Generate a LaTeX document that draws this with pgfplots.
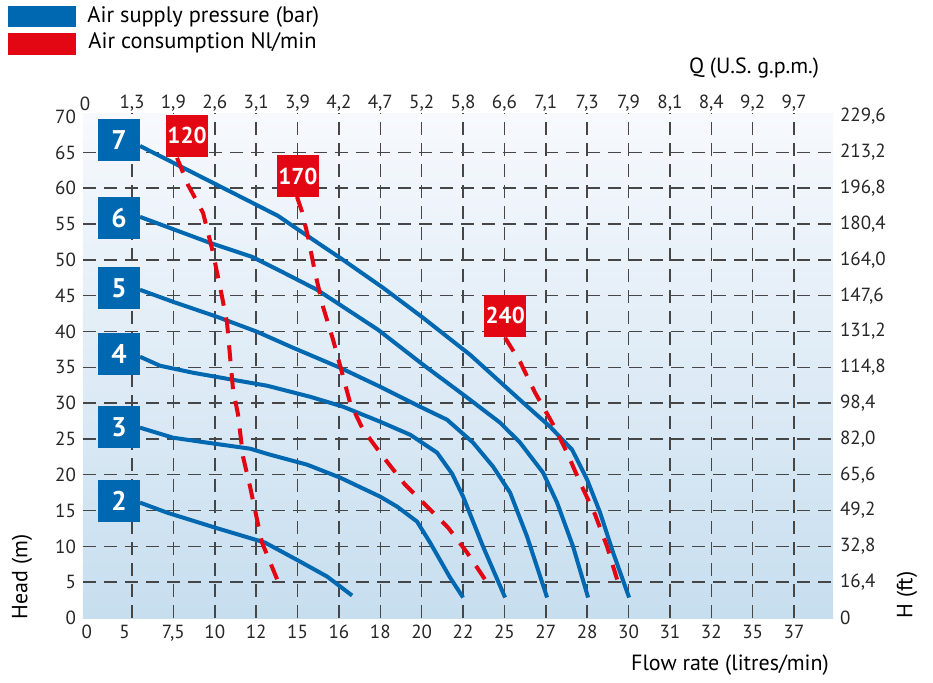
\documentclass[border=0pt]{standalone}
\usepackage{fontspec}
\setmainfont{PT Sans}
\usepackage{pgfplots}
\pgfplotsset{compat=1.18}
\definecolor{pblue}{RGB}{0,104,177}
\definecolor{pred}{RGB}{227,6,19}
\definecolor{gridc}{RGB}{70,70,70}
\definecolor{bgtop}{RGB}{247,249,253}
\definecolor{bgbot}{RGB}{199,222,239}
\tikzset{
  boxb/.style={fill=pblue, text=white, minimum size=21pt, inner sep=0pt, font=\bfseries\fontsize{13.5}{13.5}\selectfont},
  boxr/.style={fill=pred, text=white, minimum size=21pt, inner sep=0pt, font=\bfseries\fontsize{11.5}{11.5}\selectfont},
}
\begin{document}
\begin{tikzpicture}
\useasboundingbox (-41.5pt,-32pt) rectangle (425pt,309pt);
\pgfplotsset{
  every axis/.append style={
    scale only axis, width=375pt, height=252.5pt,
    xmin=-0.184, xmax=17.94, ymin=0, ymax=70.5,
    at={(0pt,0pt)}, anchor=south west,
    axis line style={draw=none,-},
    major tick length=0pt,
    tick label style={font=\fontsize{9.5}{11}\selectfont, text=black!85},
  },
}
\begin{axis}[
  axis background/.style={shade, top color=bgtop, bottom color=bgbot},
  xtick={1,...,17},
  xticklabels={,{7,5},10,12,15,16,18,20,22,25,27,28,30,31,32,35,37},
  extra x ticks={-0.09,0.82},
  extra x tick labels={0,5},
  extra x tick style={grid=none},
  ytick={5,10,...,65},
  yticklabels={5,10,15,20,25,30,35,40,45,50,55,60,65},
  extra y ticks={0,70},
  extra y tick labels={0,70},
  extra y tick style={grid=none},
  grid=major,
  major grid style={gridc, line width=0.75pt, dash pattern=on 6.5pt off 4pt},
  clip=false,
]
% air supply pressure curves (blue)
\addplot[pblue, line width=2pt, line join=round] coordinates {
(1.194,65.90)(3.297,59.76)(4.529,56.14)(5.061,54.04)(6.100,50.00)(7.067,46.10)(8.034,41.91)(9.170,36.75)(10.451,30.06)(11.103,26.71)(11.635,23.50)(11.998,19.32)(12.312,14.71)(12.626,9.14)(13.013,2.86)};
\addplot[pblue, line width=2pt, line join=round] coordinates {
(1.194,56.00)(2.886,52.37)(3.901,50.42)(4.529,48.61)(5.472,45.82)(6.028,43.72)(6.946,40.24)(8.034,35.36)(9.073,30.89)(9.895,27.27)(10.378,24.48)(10.934,20.29)(11.272,16.11)(11.659,9.97)(12.022,2.86)};
\addplot[pblue, line width=2pt, line join=round] coordinates {
(1.194,45.82)(1.992,44.14)(3.055,42.05)(4.022,39.96)(4.892,37.73)(6.028,34.94)(6.995,32.29)(7.961,29.50)(8.614,27.68)(9.242,24.48)(9.726,21.13)(10.137,17.50)(10.547,11.37)(11.031,2.86)};
\addplot[pblue, line width=2pt, line join=round] coordinates {
(1.194,36.47)(1.677,35.22)(2.475,34.24)(3.297,33.40)(4.263,32.43)(5.303,30.89)(6.100,29.50)(6.995,27.41)(7.720,25.59)(8.372,23.08)(8.735,20.15)(9.001,16.95)(9.484,9.97)(10.016,2.86)};
\addplot[pblue, line width=2pt, line join=round] coordinates {
(1.194,26.57)(1.992,25.17)(2.644,24.62)(3.853,23.64)(4.336,22.80)(5.230,21.41)(6.028,19.60)(6.995,16.95)(7.406,15.55)(7.889,13.46)(8.203,10.53)(8.686,5.65)(9.001,2.86)};
\addplot[pblue, line width=2pt, line join=round] coordinates {
(1.194,16.11)(1.847,14.71)(3.007,12.62)(4.215,10.53)(5.061,7.88)(5.714,5.79)(6.318,3.14)};
% air consumption curves (red dashed)
\addplot[pred, line width=2pt, dash pattern=on 8pt off 6pt] coordinates {
(2.088,64.23)(2.354,60.46)(2.717,56.56)(2.958,50.98)(3.176,44.84)(3.297,41.21)(3.442,31.87)(3.563,28.38)(3.683,22.52)(3.853,18.34)(4.022,13.74)(4.143,10.53)(4.529,5.09)};
\addplot[pred, line width=2pt, dash pattern=on 8pt off 6pt] coordinates {
(4.989,58.79)(5.109,56.69)(5.254,53.21)(5.424,48.19)(5.617,43.44)(5.859,38.84)(6.076,34.24)(6.270,30.06)(6.584,26.29)(7.067,22.52)(7.599,18.62)(8.131,15.55)(8.638,12.62)(9.097,9.14)(9.581,4.95)};
\addplot[pred, line width=2pt, dash pattern=on 8pt off 6pt] coordinates {
(10.016,39.12)(10.378,35.77)(10.741,31.45)(11.152,27.27)(11.514,23.08)(11.829,18.90)(12.191,14.44)(12.481,9.97)(12.723,5.37)};
% labels
\node[boxb] at (axis cs:0.686,66.7) {7};
\node[boxb] at (axis cs:0.686,55.9) {6};
\node[boxb] at (axis cs:0.686,46.1) {5};
\node[boxb] at (axis cs:0.686,36.8) {4};
\node[boxb] at (axis cs:0.686,26.6) {3};
\node[boxb] at (axis cs:0.686,16.4) {2};
\node[boxr] at (axis cs:2.33,67.3) {120};
\node[boxr] at (axis cs:5.01,61.7) {170};
\node[boxr] at (axis cs:10.02,42.2) {240};
\end{axis}
\begin{axis}[
  axis x line*=top, axis y line*=right,
  xticklabel style={yshift=-2.5pt},
  xtick={1,...,17},
  xticklabels={{1,3},{1,9},{2,6},{3,1},{3,9},{4,2},{4,7},{5,2},{5,8},{6,6},{7,1},{7,3},{7,9},{8,1},{8,4},{9,2},{9,7}},
  extra x ticks={-0.135}, extra x tick labels={0},
  ytick={0,5,...,70},
  yticklabels={0,{16,4},{32,8},{49,2},{65,6},{82,0},{98,4},{114,8},{131,2},{147,6},{164,0},{180,4},{196,8},{213,2},{229,6}},
]
\end{axis}
% legend
\fill[pblue] (-37.5pt,295.5pt) rectangle (-3.5pt,306pt);
\fill[pred] (-37.5pt,281.5pt) rectangle (-3.5pt,292.5pt);
\node[anchor=west, inner sep=0pt, font=\fontsize{11.2}{13}\selectfont] at (2pt,300.5pt) {Air supply pressure (bar)};
\node[anchor=west, inner sep=0pt, font=\fontsize{11.2}{13}\selectfont] at (2.5pt,287.5pt) {Air consumption Nl/min};
% axis titles
\node[font=\fontsize{11}{13}\selectfont] at (335.5pt,275pt) {Q (U.S. g.p.m.)};
\node[font=\fontsize{11}{13}\selectfont] at (323.5pt,-23.5pt) {Flow rate (litres/min)};
\node[rotate=90, font=\fontsize{11}{13}\selectfont] at (-30.5pt,20.5pt) {Head (m)};
\node[rotate=90, font=\fontsize{11}{13}\selectfont] at (412pt,11.5pt) {H (ft)};
\end{tikzpicture}
\end{document}
